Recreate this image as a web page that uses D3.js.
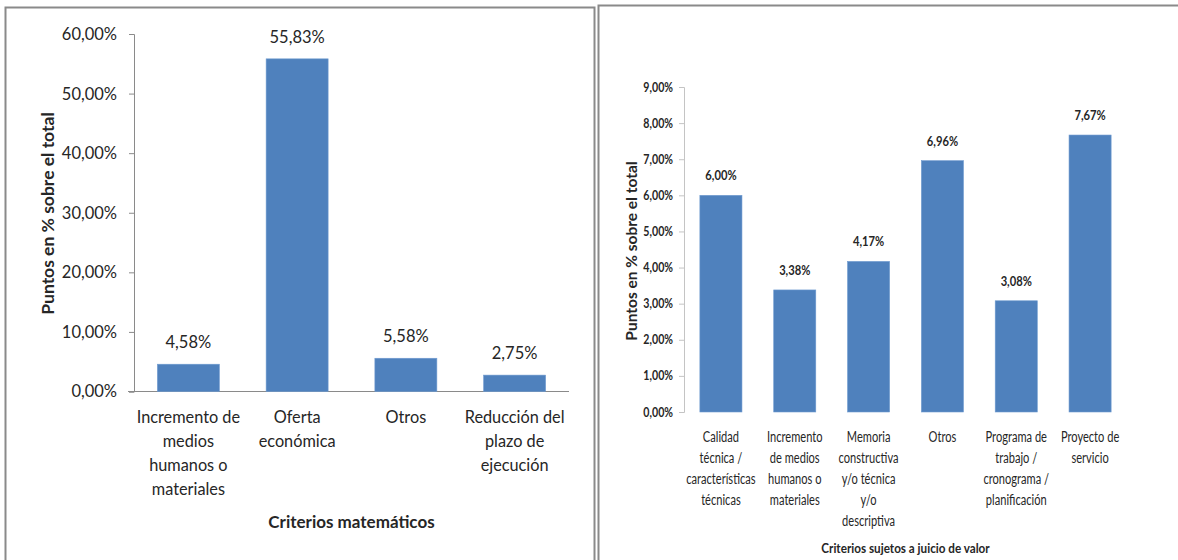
<!DOCTYPE html>
<html>
<head>
<meta charset="utf-8">
<script src="https://cdn.jsdelivr.net/npm/d3@7"></script>
<style>
  html, body { margin: 0; padding: 0; background: #fff; }
  svg { display: block; }
  text { font-family: Lato, "Open Sans", sans-serif; fill: #262626; }
</style>
</head>
<body>
<svg id="chart" width="1178" height="560"></svg>
<script>
// Criterios matemáticos (puntos en % sobre el total)
const mathCategories = [
  "Incremento de\nmedios\nhumanos o\nmateriales",
  "Oferta\neconómica",
  "Otros",
  "Reducción del\nplazo de\nejecución"
];
const mathValues = [4.58, 55.83, 5.58, 2.75];
const mathTicks = [0, 10, 20, 30, 40, 50, 60];

// Criterios sujetos a juicio de valor
const judgCategories = [
  "Calidad\ntécnica /\ncaracterísticas\ntécnicas",
  "Incremento\nde medios\nhumanos o\nmateriales",
  "Memoria\nconstructiva\ny/o técnica\ny/o\ndescriptiva",
  "Otros",
  "Programa de\ntrabajo /\ncronograma /\nplanificación",
  "Proyecto de\nservicio"
];
const judgValues = [6.00, 3.38, 4.17, 6.96, 3.08, 7.67];
const judgTicks = [0, 1, 2, 3, 4, 5, 6, 7, 8, 9];

const yTitle = "Puntos en % sobre el total";
const mathTitle = "Criterios matemáticos";
const judgTitle = "Criterios sujetos a juicio de valor";

const locale = d3.formatLocale({ decimal: ",", thousands: ".", grouping: [3], currency: ["", " €"] });
const pct = v => locale.format(".2f")(v) + "%";

const svg = d3.select("#chart");
const BAR = "#4f81bd";

// panel frames
svg.append("rect").attr("x", 5.5).attr("y", 7.5).attr("width", 589).attr("height", 600)
  .attr("fill", "#fff").attr("stroke", "#8a8a8a").attr("stroke-width", 2);
svg.append("rect").attr("x", 598.5).attr("y", 5.5).attr("width", 620).attr("height", 600)
  .attr("fill", "#fff").attr("stroke", "#8a8a8a").attr("stroke-width", 2);

// text squeezed horizontally around its anchor point
function squeezed(g, x, y, str, sx) {
  return g.append("text")
    .attr("transform", `translate(${x},${y}) scale(${sx},1)`)
    .text(str);
}

function drawChart(opt) {
  const g = svg.append("g");
  const x = d3.scaleBand().domain(opt.categories.map((d, i) => i))
    .range([opt.x0, opt.x1]).paddingInner(0.43).paddingOuter(0.215);
  const y = d3.scaleLinear().domain([0, d3.max(opt.ticks)]).range([opt.yBase, opt.yTop]);

  // y axis
  const yAxis = d3.axisLeft(y).tickValues(opt.ticks).tickSize(5).tickPadding(opt.tickPad)
    .tickFormat(pct);
  const ya = g.append("g").attr("transform", `translate(${opt.x0},0)`).call(yAxis);
  ya.select(".domain").attr("stroke", opt.axisColor).attr("stroke-width", 1);
  ya.selectAll(".tick line").attr("stroke", opt.axisColor);
  ya.selectAll(".tick text")
    .style("font-family", "Lato, sans-serif")
    .style("font-size", opt.tickFont + "px")
    .style("font-weight", opt.tickWeight)
    .attr("fill", "#262626")
    .attr("x", -(5 + opt.tickPad) / opt.tickScale)
    .attr("transform", `scale(${opt.tickScale},1)`);

  // x axis baseline
  if (opt.xAxisLine) {
    g.append("line")
      .attr("x1", opt.x0 - 6).attr("x2", opt.x1)
      .attr("y1", y(0)).attr("y2", y(0))
      .attr("stroke", opt.axisColor).attr("stroke-width", 1);
  }

  // bars
  g.selectAll("rect.bar").data(opt.values).join("rect")
    .attr("class", "bar")
    .attr("x", (d, i) => x(i))
    .attr("width", x.bandwidth())
    .attr("y", d => y(d))
    .attr("height", d => y(0) - y(d))
    .attr("fill", BAR)
    .attr("stroke", "#6f9bd0").attr("stroke-width", 0.6);

  // value labels
  opt.values.forEach((v, i) => {
    squeezed(g, x(i) + x.bandwidth() / 2, y(v) - opt.valueGap, pct(v), opt.valueScale)
      .attr("text-anchor", "middle")
      .style("font-size", opt.valueFont + "px")
      .style("font-weight", opt.valueWeight);
  });

  // category labels
  opt.categories.forEach((c, i) => {
    c.split("\n").forEach((line, k) => {
      squeezed(g, x(i) + x.bandwidth() / 2, opt.catY + k * opt.catLine, line, opt.catScale)
        .attr("text-anchor", "middle")
        .style("font-size", opt.catFont + "px");
    });
  });

  // axis titles
  squeezed(g, (opt.x0 + opt.x1) / 2, opt.titleY, opt.title, opt.titleScale)
    .attr("text-anchor", "middle")
    .style("font-size", opt.titleFont + "px")
    .style("font-weight", 700);

  g.append("text")
    .attr("transform", `translate(${opt.yTitleX},${opt.yTitleY}) rotate(-90)`)
    .attr("text-anchor", "middle")
    .style("font-size", opt.yTitleFont + "px")
    .style("font-weight", 700)
    .text(yTitle);
}

drawChart({
  categories: mathCategories, values: mathValues, ticks: mathTicks,
  x0: 134, x1: 569, yBase: 391.5, yTop: 34,
  axisColor: "#8a8a8a", xAxisLine: true,
  tickFont: 17, tickWeight: 400, tickPad: 12, tickScale: 0.97,
  valueFont: 17, valueWeight: 400, valueGap: 16, valueScale: 0.97,
  catFont: 16.8, catY: 422.5, catLine: 24.2, catScale: 0.97,
  title: mathTitle, titleY: 527.5, titleFont: 17, titleScale: 1,
  yTitleX: 54, yTitleY: 213.5, yTitleFont: 17.5
});

drawChart({
  categories: judgCategories, values: judgValues, ticks: judgTicks,
  x0: 684, x1: 1127, yBase: 412, yTop: 87,
  axisColor: "#c4c4c4", xAxisLine: false,
  tickFont: 12.5, tickWeight: 700, tickPad: 6, tickScale: 0.85,
  valueFont: 14, valueWeight: 700, valueGap: 15, valueScale: 0.8,
  catFont: 15, catY: 442, catLine: 21, catScale: 0.74,
  title: judgTitle, titleY: 553, titleFont: 13, titleScale: 0.9,
  yTitleX: 636.5, yTitleY: 251, yTitleFont: 15.5
});
</script>
</body>
</html>
